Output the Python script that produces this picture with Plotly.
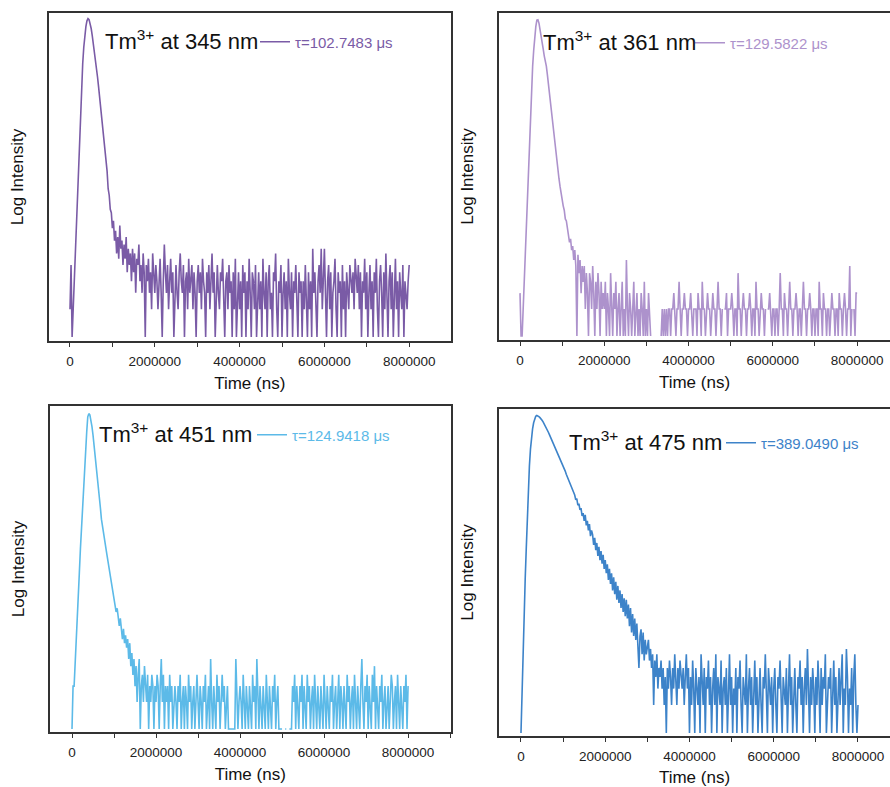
import plotly.graph_objects as go

# ---------------- data ----------------
time_step_ns = 25000          # channel width of the decay histogram
n_channels = 321              # 0 ... 8 000 000 ns
time_ns = [i * time_step_ns for i in range(n_channels)]

panels = ["345", "361", "451", "475"]
titles = {"345": "Tm<sup>3+</sup> at 345 nm", "361": "Tm<sup>3+</sup> at 361 nm",
          "451": "Tm<sup>3+</sup> at 451 nm", "475": "Tm<sup>3+</sup> at 475 nm"}
taus = {"345": "τ=102.7483 μs", "361": "τ=129.5822 μs",
        "451": "τ=124.9418 μs", "475": "τ=389.0490 μs"}
colors = {"345": "#7a5ba6", "361": "#ad92cc", "451": "#5cbae8", "475": "#3d83c9"}

# photon counts per channel (each line = 500 000 ns)
counts_345 = [
    2, 6, 1, 2, 4, 8, 17, 36, 75, 150, 290, 550, 900, 1350, 1850, 2250, 2600, 2750, 2680, 2450,
    2150, 1800, 1500, 1230, 1000, 800, 640, 500, 390, 310, 240, 185, 140, 105, 80, 62, 40, 34, 24, 22,
    15, 18, 11, 14, 8, 12, 7, 16, 9, 11, 6, 10, 7, 12, 5, 9, 6, 8, 4, 9,
    5, 8, 3, 7, 6, 10, 4, 6, 3, 8, 5, 1, 6, 4, 7, 3, 5, 2, 8, 4,
    3, 6, 4, 2, 5, 7, 3, 1, 4, 10, 5, 3, 6, 2, 4, 7, 3, 5, 1, 4,
    6, 3, 2, 5, 8, 4, 3, 6, 1, 4, 5, 2, 7, 3, 4, 6, 2, 5, 3, 1,
    4, 6, 3, 5, 2, 7, 4, 3, 1, 5, 3, 6, 2, 4, 8, 3, 5, 1, 4, 6,
    3, 2, 5, 4, 7, 3, 1, 4, 5, 2, 6, 3, 4, 1, 5, 2, 7, 1, 3, 5,
    2, 4, 1, 6, 3, 5, 1, 4, 2, 7, 3, 1, 5, 4, 2, 6, 1, 3, 5, 2,
    4, 1, 7, 3, 2, 5, 1, 4, 6, 2, 3, 1, 5, 4, 8, 2, 1, 4, 3, 6,
    1, 3, 5, 2, 4, 1, 7, 3, 2, 5, 1, 4, 3, 6, 2, 1, 5, 3, 4, 1,
    4, 2, 6, 3, 1, 5, 2, 4, 1, 9, 3, 5, 2, 1, 4, 6, 3, 9, 2, 5,
    9, 3, 1, 4, 6, 2, 5, 1, 3, 4, 7, 2, 1, 5, 3, 4, 1, 6, 2, 4,
    1, 5, 3, 2, 6, 4, 3, 5, 2, 7, 4, 3, 6, 2, 5, 1, 4, 3, 7, 2,
    5, 1, 3, 6, 2, 4, 1, 5, 3, 7, 2, 1, 4, 6, 3, 1, 5, 2, 8, 3,
    1, 4, 6, 2, 5, 1, 3, 7, 2, 4, 1, 5, 3, 2, 6, 1, 4, 3, 2, 4,
    6,
]

counts_361 = [
    3, 1, 1, 2, 5, 11, 24, 50, 100, 190, 360, 620, 1000, 1500, 2150, 2750, 3250, 3280, 3000, 2600,
    2200, 1850, 1550, 1300, 1150, 1000, 800, 620, 480, 370, 285, 220, 170, 135, 108, 88, 70, 56, 46, 38,
    33, 28, 25, 20, 19, 15, 14, 11, 12, 9, 10, 7, 9, 6, 1, 8, 5, 7, 3, 6,
    4, 6, 2, 5, 3, 1, 5, 4, 2, 6, 3, 1, 4, 2, 5, 3, 1, 4, 2, 3,
    2, 4, 1, 3, 2, 1, 5, 2, 1, 3, 2, 4, 1, 2, 3, 1, 2, 4, 1, 2,
    1, 7, 2, 1, 3, 2, 1, 2, 4, 1, 2, 3, 1, 2, 1, 3, 2, 1, 4, 1,
    2, 1, 3, 2, 1, 0, 0, 1, 0, 0, 3, 0, 0, 0, 1, 2, 1, 2, 1, 2,
    1, 2, 2, 1, 2, 2, 3, 2, 1, 2, 2, 4, 2, 1, 2, 2, 3, 2, 2, 1,
    2, 2, 3, 2, 1, 2, 2, 2, 1, 3, 2, 2, 1, 4, 2, 2, 1, 2, 3, 2,
    2, 1, 2, 3, 2, 2, 1, 2, 4, 2, 2, 1, 2, 0, 2, 2, 3, 1, 2, 2,
    2, 3, 2, 1, 2, 2, 1, 5, 2, 2, 1, 2, 3, 2, 2, 1, 2, 2, 3, 2,
    1, 2, 2, 1, 4, 2, 2, 1, 2, 3, 2, 2, 1, 2, 0, 2, 2, 3, 2, 1,
    2, 2, 1, 2, 2, 1, 2, 5, 2, 2, 1, 3, 2, 2, 1, 2, 4, 2, 2, 1,
    2, 2, 3, 2, 1, 2, 2, 1, 2, 4, 2, 2, 1, 2, 2, 3, 2, 1, 2, 2,
    1, 2, 2, 1, 4, 2, 2, 1, 3, 2, 2, 1, 2, 2, 1, 2, 3, 2, 2, 1,
    2, 2, 1, 3, 2, 2, 1, 2, 3, 2, 1, 2, 2, 6, 1, 2, 0, 2, 1, 3,
    3,
]

counts_451 = [
    1, 3, 3, 5, 9, 15, 28, 55, 100, 175, 300, 500, 820, 1300, 2000, 2950, 3200, 3100, 2750, 2300,
    1850, 1450, 1130, 880, 690, 520, 390, 290, 215, 175, 145, 122, 107, 90, 76, 65, 55, 48, 40, 33,
    28, 24, 20, 22, 16, 14, 17, 12, 10, 13, 9, 11, 8, 10, 6, 9, 5, 7, 4, 6,
    3, 5, 2, 4, 6, 1, 3, 4, 2, 5, 3, 2, 4, 1, 3, 2, 4, 3, 1, 3,
    2, 4, 3, 1, 3, 6, 2, 4, 1, 3, 2, 3, 1, 4, 2, 3, 1, 2, 3, 2,
    1, 3, 2, 4, 1, 2, 3, 1, 3, 2, 1, 4, 2, 3, 1, 2, 3, 1, 2, 4,
    2, 1, 3, 2, 1, 3, 2, 4, 1, 2, 3, 1, 6, 2, 1, 3, 2, 1, 4, 2,
    3, 1, 2, 4, 2, 3, 1, 2, 3, 1, 1, 1, 1, 1, 1, 1, 6, 3, 1, 2,
    3, 2, 1, 4, 2, 1, 3, 2, 1, 3, 2, 1, 4, 2, 3, 1, 6, 2, 1, 3,
    2, 1, 3, 2, 1, 4, 2, 1, 3, 2, 1, 3, 2, 4, 1, 2, 3, 1, 1, 1,
    1, 0, 0, 1, 1, 0, 0, 1, 1, 1, 3, 2, 4, 1, 3, 2, 1, 3, 2, 4,
    1, 3, 2, 1, 4, 2, 3, 1, 2, 3, 1, 4, 2, 1, 3, 2, 1, 3, 2, 1,
    4, 2, 1, 3, 2, 1, 3, 2, 4, 1, 2, 3, 1, 2, 4, 1, 3, 2, 1, 3,
    2, 1, 4, 2, 3, 1, 2, 3, 1, 4, 2, 1, 3, 2, 1, 3, 6, 2, 1, 3,
    2, 4, 1, 3, 2, 1, 4, 2, 5, 1, 3, 2, 1, 3, 2, 4, 1, 2, 3, 1,
    2, 3, 1, 2, 4, 3, 1, 2, 3, 1, 4, 2, 1, 3, 2, 1, 3, 2, 4, 1,
    3,
]

counts_475 = [
    1, 3, 8, 17, 45, 95, 210, 420, 740, 1120, 1500, 1850, 2150, 2380, 2520, 2570, 2550, 2500, 2440, 2380,
    2290, 2200, 2100, 2000, 1900, 1800, 1700, 1600, 1510, 1420, 1340, 1260, 1190, 1120, 1060, 1000, 950, 890, 840, 790,
    730, 690, 650, 600, 565, 530, 490, 470, 430, 415, 380, 360, 320, 330, 280, 290, 250, 260, 215, 230,
    190, 220, 170, 190, 150, 175, 130, 150, 135, 105, 125, 92, 110, 80, 100, 72, 90, 66, 82, 58,
    72, 52, 65, 44, 58, 40, 52, 34, 47, 31, 42, 27, 38, 25, 34, 22, 31, 20, 28, 18,
    27, 17, 24, 14, 22, 12, 19, 11, 17, 10, 15, 8, 5, 11, 13, 7, 12, 6, 10, 7,
    8, 10, 6, 8, 5, 7, 2, 6, 4, 7, 3, 5, 4, 6, 3, 5, 2, 4, 1, 5,
    3, 6, 4, 2, 5, 3, 7, 4, 2, 5, 3, 6, 4, 3, 5, 2, 4, 7, 3, 5,
    1, 4, 2, 6, 3, 1, 5, 3, 2, 4, 1, 7, 3, 2, 5, 1, 4, 3, 6, 2,
    4, 1, 3, 5, 2, 7, 1, 4, 3, 2, 6, 1, 3, 4, 2, 5, 1, 3, 7, 2,
    4, 1, 3, 2, 5, 1, 4, 3, 6, 2, 1, 4, 3, 2, 7, 1, 3, 5, 2, 4,
    1, 3, 6, 2, 4, 1, 3, 5, 2, 1, 4, 3, 7, 2, 1, 5, 3, 2, 4, 1,
    3, 5, 2, 1, 4, 3, 6, 2, 1, 4, 3, 2, 5, 1, 3, 7, 2, 4, 1, 3,
    5, 2, 1, 4, 3, 6, 2, 4, 1, 3, 5, 2, 8, 3, 1, 4, 2, 5, 3, 1,
    4, 2, 6, 3, 1, 5, 2, 4, 3, 7, 1, 2, 4, 3, 5, 1, 3, 6, 2, 4,
    1, 3, 5, 2, 4, 7, 1, 3, 2, 8, 4, 1, 3, 2, 5, 1, 4, 7, 2, 1,
    2,
]

counts = {"345": counts_345, "361": counts_361, "451": counts_451, "475": counts_475}

x_tick_vals = [0, 2000000, 4000000, 6000000, 8000000]
x_tick_text = ["0", "2000000", "4000000", "6000000", "8000000"]

# ---------------- layout geometry ----------------
W, H = 890, 787
FONT = "Arial, 'Liberation Sans', Helvetica, sans-serif"
FRAME = "#333333"

# plot boxes in pixels: left, right, top, bottom
boxes = {
    "345": (49, 450.5, 13, 341),
    "361": (499, 890, 13, 340),
    "451": (50, 450.5, 406, 732),
    "475": (499, 890, 409, 736),
}
x_ranges = {
    "345": [-495000, 8974000],
    "361": [-498500, 8780000],
    "451": [-524000, 9010000],
    "475": [-522000, 8760000],
}
y_ranges = {
    "345": [-0.043, 3.50],
    "361": [-0.044, 3.59],
    "451": [-0.033, 3.59],
    "475": [-0.032, 3.48],
}
# black label: (left px, centre px); legend line: (start px, centre px)
label_pos = {"345": (103, 40), "361": (541, 41), "451": (97, 433), "475": (567, 441)}
legend_pos = {"345": (263, 42), "361": (698, 43), "451": (260, 435), "475": (729, 443)}
right_frame = {"345": True, "361": False, "451": True, "475": False}

fig = go.Figure()
layout = dict(
    width=W, height=H,
    margin=dict(l=0, r=0, t=0, b=0),
    paper_bgcolor="white", plot_bgcolor="white",
    font=dict(family=FONT, color="#222222"),
)
annotations = []

for k, p in enumerate(panels, start=1):
    sfx = "" if k == 1 else str(k)
    leg = "legend" if k == 1 else f"legend{k}"
    l, r, t, b = boxes[p]
    y_vals = [v if v > 0 else None for v in counts[p]]
    fig.add_trace(go.Scatter(
        x=time_ns, y=y_vals, mode="lines",
        line=dict(color=colors[p], width=1.6),
        name=taus[p], legend=leg, showlegend=True,
        xaxis=f"x{sfx}", yaxis=f"y{sfx}",
        connectgaps=False,
    ))
    layout[f"xaxis{sfx}"] = dict(
        domain=[l / W, r / W], anchor=f"y{sfx}",
        range=x_ranges[p], showgrid=False, zeroline=False,
        showline=True, linecolor=FRAME, linewidth=1.5, mirror=True,
        tickmode="array", tickvals=x_tick_vals, ticktext=x_tick_text,
        ticks="outside", ticklen=4, tickwidth=1, tickcolor=FRAME,
        minor=dict(dtick=1000000, tick0=0, ticks="outside", ticklen=4,
                   tickwidth=1, tickcolor=FRAME, showgrid=False),
        tickfont=dict(size=13.5, color="#222222"),
        ticklabelstandoff=3,
        title=dict(text="Time (ns)", font=dict(size=17, color="#111111"), standoff=9),
        automargin=False,
    )
    layout[f"yaxis{sfx}"] = dict(
        domain=[1 - b / H, 1 - t / H], anchor=f"x{sfx}",
        type="log", range=y_ranges[p],
        showgrid=False, zeroline=False, showticklabels=False, ticks="",
        showline=True, linecolor=FRAME, linewidth=1.5, mirror=right_frame[p],
        title=dict(text="Log Intensity", font=dict(size=17, color="#111111"), standoff=19),
        automargin=False,
    )
    lx, ly = legend_pos[p]
    layout[leg] = dict(
        x=(lx - 8) / W, y=1 - ly / H, xanchor="left", yanchor="middle",
        orientation="h", bgcolor="rgba(0,0,0,0)", borderwidth=0,
        font=dict(family=FONT, size=15, color=colors[p]),
    )
    ax, ay = label_pos[p]
    annotations.append(dict(
        text=titles[p], x=ax / W, y=1 - ay / H, xref="paper", yref="paper",
        xanchor="left", yanchor="middle", showarrow=False,
        font=dict(family=FONT, size=22, color="#111111"),
    ))

layout["annotations"] = annotations
fig.update_layout(**layout)
fig.write_html("out.html")
